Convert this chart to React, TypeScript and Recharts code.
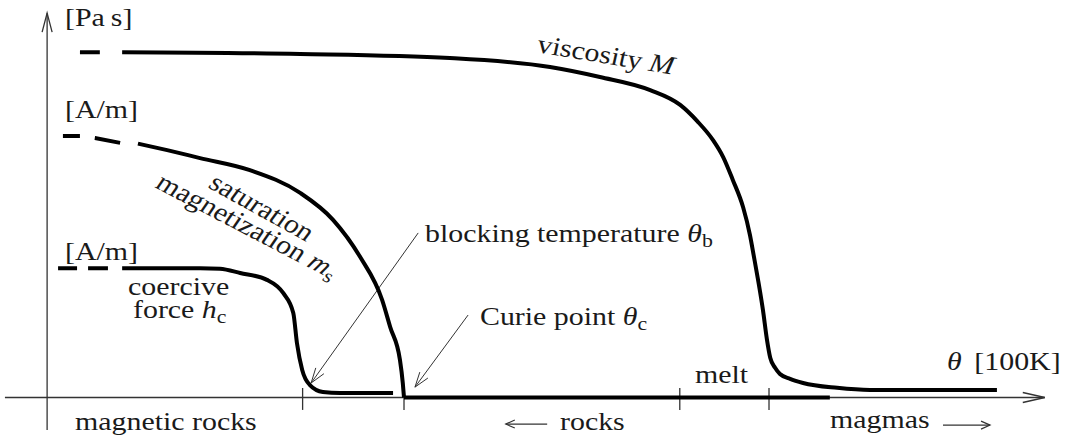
import React from 'react';
import { LineChart, Line, XAxis, YAxis, ReferenceLine } from 'recharts';

// x: temperature θ [100 K] (schematic), y: relative magnitude (schematic units)
const viscosityDashTemp = [0.01, 0.5];
const viscosityDashValue = [100.1, 100.1];
const viscosityTemp = [1.05, 5.44, 9.13, 11.6, 12.83, 14.07, 14.81, 15.23, 15.62, 15.87, 16.11, 16.36, 16.53, 16.63, 16.73, 16.85, 16.95, 17.03, 17.15, 17.27, 17.52, 17.84, 18.68, 19.49, 22.62];
const viscosityValue = [100.1, 99.6, 98.4, 95.8, 92.9, 89.1, 84.8, 80.1, 74.6, 69.7, 63.0, 55.2, 47.1, 40.7, 34.1, 25.4, 16.7, 11.5, 8.6, 6.8, 5.4, 4.2, 2.8, 2.2, 2.2];

const satDashTemp = [-0.41, 0.01, 0.38, 1.0];
const satDashValue = [75.8, 75.8, 75.2, 73.8];
const satTemp = [1.44, 2.16, 2.97, 4.2, 5.44, 6.25, 6.92, 7.46, 7.66, 7.9, 7.97, 8.0];
const satValue = [73.6, 71.7, 69.4, 65.9, 59.3, 51.5, 40.7, 28.3, 20.4, 10.9, 4.2, 0];
const satZeroTemp = [8.0, 18.5];
const satZeroValue = [0, 0];

const coerDashTemp = [-0.53, 0.7];
const coerDashValue = [37.5, 37.5];
const coerTemp = [1.05, 2.97, 3.46, 3.96, 4.62, 5.02, 5.27, 5.36, 5.49, 5.68, 6.0, 6.42, 7.73];
const coerValue = [37.5, 37.5, 37.3, 36.1, 34.1, 30.3, 24.5, 15.8, 8.0, 3.6, 1.6, 1.3, 1.3];

const tickTemps = [5.5, 8, 14.8, 17];
const tickLabels = ['', '~ 8', '~ 15', '~ 17'];

const axisY = [{ x: -0.8, y: -9.4 }, { x: -0.8, y: 111.4 }];
const axisX = [{ x: -1.84, y: 0 }, { x: 23.8, y: 0 }];
const blockingArrow = [{ x: 8.35, y: 47.7 }, { x: 5.71, y: 4.2 }];
const curieArrow = [{ x: 9.58, y: 23.9 }, { x: 8.27, y: 3.0 }];
const rocksArrow = [{ x: 11.53, y: -7.7 }, { x: 10.51, y: -7.7 }];
const magmasArrow = [{ x: 21.29, y: -8.0 }, { x: 22.45, y: -8.0 }];

const zip = (ts: number[], vs: number[]) => ts.map((t, i) => ({ t, y: vs[i] }));

const SX = 1.15;
const FONT = "'Liberation Serif', 'Times New Roman', serif";
const INK = '#1a1a1a';

function Txt({ x, y, angle = 0, anchor = 'start', children }: any) {
  return (
    <text
      transform={`translate(${x},${y}) scale(${SX},1) rotate(${angle})`}
      x={0}
      y={0}
      textAnchor={anchor}
      fontFamily={FONT}
      fontSize={26}
      fill={INK}
    >
      {children}
    </text>
  );
}

const Sub = ({ children }: any) => (
  <tspan fontSize={19} dy={5}>
    {children}
  </tspan>
);

const arrowShape = (len: number, half: number, width: number) => (p: any) => {
  const { x1, y1, x2, y2 } = p;
  if ([x1, y1, x2, y2].some((v) => typeof v !== 'number' || isNaN(v))) return <g />;
  const dx = x2 - x1;
  const dy = y2 - y1;
  const L = Math.hypot(dx, dy) || 1;
  const ux = dx / L;
  const uy = dy / L;
  const nx = -uy;
  const ny = ux;
  const bx = x2 - ux * len;
  const by = y2 - uy * len;
  return (
    <g>
      <line x1={x1} y1={y1} x2={x2} y2={y2} stroke="#333" strokeWidth={width} />
      {len > 0 && (
        <polyline
          points={`${bx + nx * half},${by + ny * half} ${x2},${y2} ${bx - nx * half},${by - ny * half}`}
          fill="none"
          stroke="#333"
          strokeWidth={width}
        />
      )}
    </g>
  );
};

const renderTick = (props: any) => {
  const { x, payload } = props;
  const idx = tickTemps.indexOf(payload.value);
  const label = idx >= 0 ? tickLabels[idx] : '';
  if (!label) return <g />;
  return (
    <Txt x={x} y={437} anchor="middle">
      {label}
    </Txt>
  );
};

export default function App() {
  const lineCommon = {
    dataKey: 'y',
    stroke: '#000',
    strokeWidth: 4,
    dot: false,
    activeDot: false,
    isAnimationActive: false,
  } as const;
  return (
    <div style={{ position: 'absolute', left: 0, top: 0, background: '#fff' }}>
      <LineChart width={1066} height={441} margin={{ top: 11.1, right: 13.1, bottom: 9, left: 2.5 }}>
        <XAxis
          type="number"
          dataKey="t"
          domain={[-1.9, 24]}
          ticks={tickTemps}
          interval={0}
          tick={renderTick}
          axisLine={false}
          tickLine={false}
          height={0}
          allowDataOverflow
        />
        <YAxis type="number" domain={[-10, 112]} hide allowDataOverflow />

        <ReferenceLine segment={axisX} ifOverflow="visible" shape={arrowShape(22, 5, 1.3)} />
        <ReferenceLine segment={axisY} ifOverflow="visible" shape={arrowShape(19, 5, 1.3)} />
        {tickTemps.map((t) => (
          <ReferenceLine
            key={t}
            segment={[{ x: t, y: 2.75 }, { x: t, y: -3.6 }]}
            ifOverflow="visible"
            shape={arrowShape(0, 0, 1.3)}
          />
        ))}
        <ReferenceLine segment={blockingArrow} ifOverflow="visible" shape={arrowShape(15, 5, 1)} />
        <ReferenceLine segment={curieArrow} ifOverflow="visible" shape={arrowShape(15, 5, 1)} />
        <ReferenceLine segment={rocksArrow} ifOverflow="visible" shape={arrowShape(9, 4, 1.2)} />
        <ReferenceLine segment={magmasArrow} ifOverflow="visible" shape={arrowShape(9, 4, 1.2)} />

        <Line {...lineCommon} type="linear" data={zip(viscosityDashTemp, viscosityDashValue)} />
        <Line {...lineCommon} type="monotone" data={zip(viscosityTemp, viscosityValue)} />
        <Line {...lineCommon} type="linear" data={zip(satDashTemp, satDashValue)} strokeDasharray="17 15 26 400" />
        <Line {...lineCommon} type="monotone" data={zip(satTemp, satValue)} />
        <Line {...lineCommon} type="linear" data={zip(satZeroTemp, satZeroValue)} />
        <Line {...lineCommon} type="linear" data={zip(coerDashTemp, coerDashValue)} strokeDasharray="19 11 20 400" />
        <Line {...lineCommon} type="monotone" data={zip(coerTemp, coerValue)} />

        <Txt x={65} y={26}>[Pa{'\u2009'}s]</Txt>
        <Txt x={65} y={118}>[A/m]</Txt>
        <Txt x={65} y={260}>[A/m]</Txt>
        <Txt x={536} y={52} angle={10.8}>
          viscosity <tspan fontStyle="italic">M</tspan>
        </Txt>
        <Txt x={207} y={187} angle={32.5}>saturation</Txt>
        <Txt x={154} y={187} angle={30.9}>
          magnetization <tspan fontStyle="italic">m</tspan>
          <Sub>s</Sub>
        </Txt>
        <Txt x={128} y={295}>coercive</Txt>
        <Txt x={133} y={318}>
          force <tspan fontStyle="italic">h</tspan>
          <Sub>c</Sub>
        </Txt>
        <Txt x={425} y={242}>
          blocking temperature <tspan fontStyle="italic">θ</tspan>
          <Sub>b</Sub>
        </Txt>
        <Txt x={480} y={325}>
          Curie point <tspan fontStyle="italic">θ</tspan>
          <Sub>c</Sub>
        </Txt>
        <Txt x={947} y={370}>
          <tspan fontStyle="italic">θ</tspan>
          <tspan dx={11}>[100K]</tspan>
        </Txt>
        <Txt x={695} y={383}>melt</Txt>
        <Txt x={75} y={430}>magnetic rocks</Txt>
        <Txt x={560} y={430}>rocks</Txt>
        <Txt x={830} y={428}>magmas</Txt>
      </LineChart>
    </div>
  );
}
